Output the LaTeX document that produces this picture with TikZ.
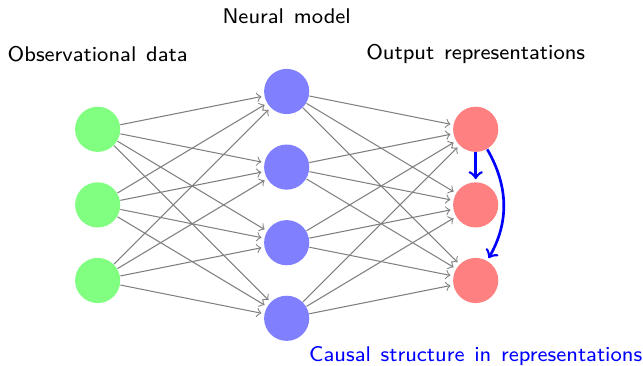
\documentclass[tikz,border=0pt]{standalone}
\newcommand\mylabfont{\sffamily\footnotesize\spaceskip=1.3\fontdimen2\font\relax}
\begin{document}
\begin{tikzpicture}[font=\mylabfont,
  neuron/.style={circle,minimum size=17pt,inner sep=0pt},
  inneuron/.style={neuron,fill=green!50},
  hidneuron/.style={neuron,fill=blue!50},
  outneuron/.style={neuron,fill=red!50},
  link/.style={->,draw=black!50,shorten >=1pt},
  causal/.style={->,draw=blue,line width=1pt,shorten >=1pt},
  annot/.style={}]
\useasboundingbox (-1.292,1.710) rectangle (7.213,-3.118);
\node[inneuron] (I-1) at (0,0) {};
\node[inneuron] (I-2) at (0,-1) {};
\node[inneuron] (I-3) at (0,-2) {};
\node[hidneuron] (H-1) at (2.5,0.5) {};
\node[hidneuron] (H-2) at (2.5,-0.5) {};
\node[hidneuron] (H-3) at (2.5,-1.5) {};
\node[hidneuron] (H-4) at (2.5,-2.5) {};
\node[outneuron] (O-1) at (5,0) {};
\node[outneuron] (O-2) at (5,-1) {};
\node[outneuron] (O-3) at (5,-2) {};
\foreach \i in {1,2,3}
  \foreach \j in {1,2,3,4}
    \draw[link] (I-\i) -- (H-\j);
\foreach \j in {1,2,3,4}
  \foreach \k in {1,2,3}
    \draw[link] (H-\j) -- (O-\k);
\draw[causal] (O-1) -- (O-2);
\draw[causal] (O-1) to[bend left] (O-3);
\node[annot] (lin) at (0,1) {Observational data};
\node[annot] (lhid) at (2.5,1.5) {Neural model};
\node[annot] (lout) at (5,1) {Output representations};
\node[annot,text=blue] (lcaus) at (5,-3) {Causal structure in representations};
\end{tikzpicture}
\end{document}
